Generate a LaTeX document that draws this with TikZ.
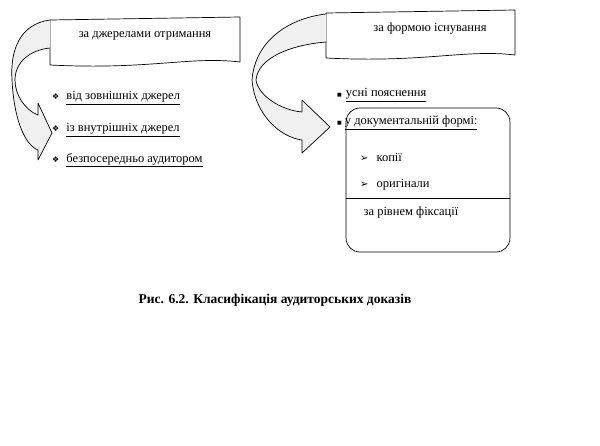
\documentclass[tikz,border=0pt]{standalone}
\usepackage{fontspec}
\setmainfont{Liberation Serif}
\newfontfamily\dejavu{DejaVu Sans}
\newcommand\ul[1]{\underline{#1}}
\begin{document}
\begin{tikzpicture}[x=1pt,y=-1pt,
  lab/.style={font=\fontsize{12.5}{14}\selectfont, inner sep=0pt},
  item/.style={font=\fontsize{12.5}{14}\selectfont, anchor=west, inner sep=0pt},
  shp/.style={draw, line width=0.7pt, line join=round}]
\useasboundingbox (0,0) rectangle (600,445);
% left banner
\draw[shp, fill=white] (50,20) -- (240,17) -- (240,62) .. controls (190,56) and (150,70) .. (50,65) -- cycle;
\node[lab] (b1) at (145,36) {за джерелами отримання};
% left arrow
\draw[shp, fill=gray!12] (50,20) .. controls (20,24) and (10,50) .. (12,80)
  .. controls (14,120) and (25,145) .. (38,150) -- (38,160) -- (52,133) coordinate (t1) -- (38,103) -- (38,115)
  .. controls (25,110) and (15,95) .. (15,80) .. controls (15,62) and (30,50) .. (50,48);
% left items
\node[item] (i1) at (52,98) {{\dejavu\fontsize{8}{10}\selectfont ❖}\hspace{7pt}\ul{від зовнішніх джерел}};
\node[item] (i2) at (52,130) {{\dejavu\fontsize{8}{10}\selectfont ❖}\hspace{7pt}\ul{із внутрішніх джерел}};
\node[item] (i3) at (52,160) {{\dejavu\fontsize{8}{10}\selectfont ❖}\hspace{7pt}\ul{безпосередньо аудитором}};
% right banner
\draw[shp, fill=white] (326,13) -- (515,10) -- (515,55) .. controls (465,49) and (425,63) .. (326,58) -- cycle;
\node[lab] (b2) at (430,29) {за формою існування};
% right arrow
\draw[shp, fill=gray!12] (326,14) .. controls (290,18) and (255,40) .. (252,80)
  .. controls (255,115) and (280,137) .. (302,140) -- (302,153) -- (330,127) coordinate (t2) -- (302,100) -- (302,112)
  .. controls (280,110) and (258,95) .. (256,80) .. controls (258,58) and (290,45) .. (326,42);
% right items
\node[item] (r1) at (337,95) {{\dejavu\fontsize{5}{8}\selectfont ■}\hspace{4pt}\ul{усні пояснення}};
\draw[shp, rounded corners=14pt] (346,108) rectangle (510,252);
\node[item] (r2) at (337,123) {{\dejavu\fontsize{5}{8}\selectfont ■}\hspace{3pt}\ul{у документальній формі:}};
\node[item] (r3) at (360,157) {{\dejavu\fontsize{10}{10}\selectfont ➢}\hspace{8pt}копії};
\node[item] (r4) at (360,185) {{\dejavu\fontsize{10}{10}\selectfont ➢}\hspace{8pt}оригінали};
\draw[line width=0.7pt] (346,198) -- (510,198);
\node[lab] (r5) at (411,212) {за рівнем фіксації};
% caption
\node[lab, font=\bfseries\fontsize{13.5}{16}\selectfont] (cap) at (275,300) {Рис. 6.2. Класифікація аудиторських доказів};
\end{tikzpicture}
\end{document}
